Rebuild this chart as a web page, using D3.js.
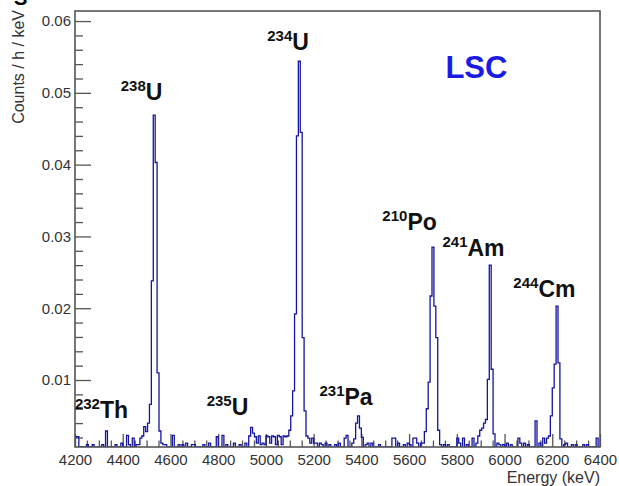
<!DOCTYPE html>
<html lang="en">
<head>
<meta charset="UTF-8">
<title>LSC alpha spectrum</title>
<script src="https://cdn.jsdelivr.net/npm/d3@7/dist/d3.min.js"></script>
<style>
    body { margin: 0; background: #fff; }
    text { font-family: "Liberation Sans", Arial, Helvetica, sans-serif; }
</style>
</head>
<body>
<svg width="619" height="486"></svg>
<script>
// histogram: lower edge of each filled 8 keV bin, and its rate (counts / h / keV)
var binLow = [
    4200, 4208, 4248, 4272, 4312, 4328, 4368, 4392, 4416, 4424, 4440, 4456, 4464, 4472, 4480, 4488, 4496,
    4504, 4512, 4520, 4528, 4536, 4544, 4552,
    4560, 4568, 4576, 4608, 4632, 4648, 4664, 4688, 4696, 4736, 4760, 4792, 4816, 4832, 4864, 4888, 4912,
    4928, 4936, 4944, 4952, 4960, 4968, 4976, 4984, 4992, 5000, 5008, 5016, 5024, 5032, 5040, 5048, 5056,
    5064, 5072, 5080, 5088, 5096,
    5104, 5112, 5120, 5128, 5136, 5144, 5152, 5160,
    5168, 5176, 5184, 5192, 5200, 5208, 5224, 5232, 5248, 5264, 5288, 5304, 5328, 5336, 5360,
    5368, 5376, 5384, 5392, 5400,
    5416, 5424, 5440, 5472, 5528, 5536, 5552, 5576, 5592, 5600, 5616, 5624, 5632, 5648,
    5656, 5664, 5672, 5680, 5688, 5696, 5704, 5712, 5720,
    5728, 5744, 5760, 5800, 5808, 5824, 5840, 5864, 5880, 5888, 5896, 5904, 5912, 5920,
    5928, 5936, 5944, 5952,
    5968, 5976, 5992, 6008, 6024, 6056, 6064, 6080, 6096, 6128, 6144, 6160, 6168, 6176,
    6184, 6192, 6200, 6208, 6216, 6224, 6232,
    6248, 6256, 6280, 6296, 6328, 6344, 6384
];
var rate = [
    0.0021, 0.0021, 0.0010, 0.0010, 0.0010, 0.0029, 0.0010, 0.0012, 0.0023, 0.0010, 0.0019, 0.0010, 0.0010, 0.0019, 0.0022, 0.0035, 0.0028,
    0.0040, 0.0066, 0.0238, 0.0469, 0.0403, 0.0110, 0.0029,
    0.0012, 0.0010, 0.0010, 0.0023, 0.0010, 0.0010, 0.0012, 0.0010, 0.0010, 0.0010, 0.0012, 0.0021, 0.0023, 0.0010, 0.0012, 0.0010, 0.0012,
    0.0022, 0.0034, 0.0026, 0.0021, 0.0012, 0.0022, 0.0010, 0.0012, 0.0010, 0.0022, 0.0021, 0.0012, 0.0022, 0.0021, 0.0010, 0.0023, 0.0021,
    0.0010, 0.0022, 0.0021, 0.0022, 0.0030,
    0.0050, 0.0085, 0.0192, 0.0440, 0.0544, 0.0445, 0.0159, 0.0057,
    0.0022, 0.0019, 0.0012, 0.0019, 0.0012, 0.0012, 0.0012, 0.0010, 0.0012, 0.0010, 0.0010, 0.0012, 0.0019, 0.0023, 0.0012,
    0.0018, 0.0040, 0.0050, 0.0033, 0.0020,
    0.0010, 0.0012, 0.0012, 0.0010, 0.0019, 0.0019, 0.0012, 0.0010, 0.0012, 0.0010, 0.0019, 0.0019, 0.0012, 0.0012,
    0.0012, 0.0028, 0.0060, 0.0097, 0.0217, 0.0285, 0.0203, 0.0159, 0.0030,
    0.0010, 0.0010, 0.0010, 0.0019, 0.0012, 0.0019, 0.0010, 0.0019, 0.0012, 0.0022, 0.0030, 0.0033, 0.0040, 0.0045,
    0.0101, 0.0260, 0.0115, 0.0025,
    0.0012, 0.0010, 0.0010, 0.0012, 0.0010, 0.0019, 0.0012, 0.0012, 0.0010, 0.0043, 0.0012, 0.0019, 0.0012, 0.0019,
    0.0022, 0.0050, 0.0089, 0.0122, 0.0203, 0.0124, 0.0018,
    0.0010, 0.0012, 0.0010, 0.0010, 0.0010, 0.0010, 0.0019
];

var xTicks = [4200, 4400, 4600, 4800, 5000, 5200, 5400, 5600, 5800, 6000, 6200, 6400];
var yTicks = [0.01, 0.02, 0.03, 0.04, 0.05, 0.06];

// peak annotations: mass number, element, and anchor (energy keV, rate)
var labelMass   = ["238", "234", "210", "241", "244", "232", "235", "231"];
var labelElem   = ["U",   "U",   "Po",  "Am",  "Cm",  "Th",  "U",   "Pa"];
var labelEnergy = [4479,  5093,  5602,  5870,  6167,  4311,  4839,  5336];
var labelRate   = [0.0490, 0.0560, 0.0309, 0.0273, 0.0216, 0.0047, 0.0051, 0.0065];

var svg = d3.select("svg");
var marge = {top: 11, left: 75, right: 19, bottom: 39};
var width = +svg.attr("width") - marge.left - marge.right;
var height = +svg.attr("height") - marge.top - marge.bottom;
var g = svg.append("g")
    .attr("transform", "translate(" + marge.left + "," + marge.top + ")");

var xScale = d3.scaleLinear().domain([4200, 6400]).range([0, width]);
var yScale = d3.scaleLinear().domain([0.00067, 0.0614]).range([height, 0]).clamp(true);

var axisColor = "#555";

// minor ticks
var xMinor = d3.range(4200, 6401, 50).filter(function(d){ return d % 200 != 0; });
var yMinor = d3.range(1, 31).map(function(i){ return +(i * 0.002).toFixed(3); })
    .filter(function(d){ return yTicks.indexOf(d) < 0; });

g.append("g")
    .attr("transform", "translate(0," + height + ")")
    .call(d3.axisBottom(xScale).tickValues(xMinor).tickSize(-6.5).tickFormat(""))
    .call(function(a){ a.select(".domain").remove(); });
g.append("g")
    .call(d3.axisLeft(yScale).tickValues(yMinor).tickSize(-8).tickFormat(""))
    .call(function(a){ a.select(".domain").remove(); });

// major axes
g.append("g")
    .attr("class", "xaxis")
    .attr("transform", "translate(0," + height + ")")
    .call(d3.axisBottom(xScale).tickValues(xTicks).tickSize(-13).tickPadding(7).tickFormat(d3.format("d")))
    .call(function(a){ a.select(".domain").remove(); });
g.append("g")
    .attr("class", "yaxis")
    .call(d3.axisLeft(yScale).tickValues(yTicks).tickSize(-16).tickPadding(4).tickFormat(d3.format(".2f")))
    .call(function(a){ a.select(".domain").remove(); });

svg.selectAll(".tick line").attr("stroke", axisColor).attr("stroke-width", 1.3);
svg.selectAll(".tick text").attr("fill", "#333").attr("font-size", 15)
    .style("font-family", "'Liberation Sans', Arial, sans-serif");

// histogram
var bins = d3.range(4200, 6400, 8).map(function(e){
    var i = binLow.indexOf(e);
    return [e, i < 0 ? 0 : rate[i]];
});
bins.push([6400, bins[bins.length - 1][1]]);

svg.append("clipPath").attr("id", "frame")
    .append("rect").attr("width", width).attr("height", height);

var line = d3.line()
    .x(function(d){ return xScale(d[0]); })
    .y(function(d){ return yScale(d[1]); })
    .curve(d3.curveStepAfter);

g.append("path")
    .datum(bins)
    .attr("clip-path", "url(#frame)")
    .attr("d", line)
    .attr("fill", "none")
    .attr("stroke", "#1414a0")
    .attr("stroke-width", 1.3);

// frame
g.append("rect")
    .attr("width", width).attr("height", height)
    .attr("fill", "none")
    .attr("stroke", axisColor)
    .attr("stroke-width", 1.6);

// axis titles
svg.append("text")
    .attr("x", 600).attr("y", 483)
    .attr("text-anchor", "end")
    .attr("font-size", 16)
    .attr("fill", "#333")
    .text("Energy (keV)");
svg.append("text")
    .attr("transform", "translate(24,10) rotate(-90)")
    .attr("text-anchor", "end")
    .attr("font-size", 16)
    .attr("fill", "#333")
    .text("Counts / h / keV");
svg.append("text")
    .attr("x", 14).attr("y", 5)
    .attr("font-size", 20)
    .attr("font-weight", "bold")
    .text("S");

// peak labels
labelMass.forEach(function(m, i){
    var t = svg.append("text")
        .attr("x", marge.left + xScale(labelEnergy[i]))
        .attr("y", marge.top + yScale(labelRate[i]))
        .attr("text-anchor", "middle")
        .attr("font-weight", "bold")
        .attr("fill", "#111");
    t.append("tspan").attr("font-size", 15).attr("dy", -9).text(m);
    t.append("tspan").attr("font-size", 23).attr("dy", 9).text(labelElem[i]);
});

svg.append("text")
    .attr("x", marge.left + xScale(5882))
    .attr("y", marge.top + yScale(0.0521))
    .attr("text-anchor", "middle")
    .attr("font-size", 31)
    .attr("font-weight", "bold")
    .attr("fill", "#1a1ae6")
    .text("LSC");
</script>
</body>
</html>
